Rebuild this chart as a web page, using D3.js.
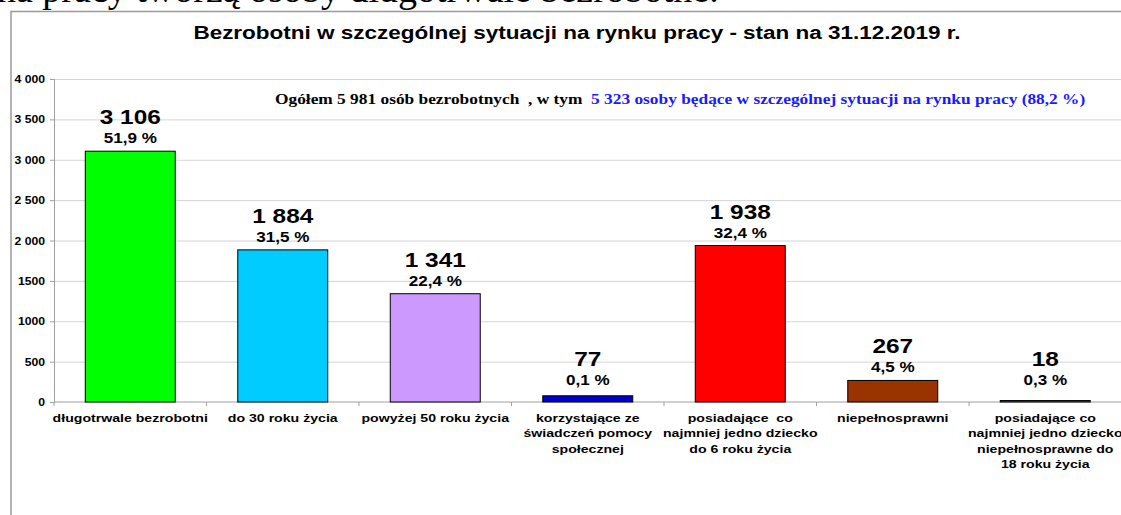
<!DOCTYPE html>
<html>
<head>
<meta charset="utf-8">
<script src="https://cdn.jsdelivr.net/npm/d3@7/dist/d3.min.js"></script>
<style>
  body { margin:0; background:#fff; }
  svg { display:block; }
  text { font-family:"Liberation Sans", Arial, sans-serif; font-weight:bold; }
  .serif { font-family:"Liberation Serif", "Times New Roman", serif; }
</style>
</head>
<body>
<svg id="chart" width="1121" height="515"></svg>
<script>
// dane
const categories = [
    ["długotrwale bezrobotni"],
    ["do 30 roku życia"],
    ["powyżej 50 roku życia"],
    ["korzystające ze", "świadczeń pomocy", "społecznej"],
    ["posiadające  co", "najmniej jedno dziecko", "do 6 roku życia"],
    ["niepełnosprawni"],
    ["posiadające co", "najmniej jedno dziecko", "niepełnosprawne do", "18 roku życia"]
];
const values   = [3106, 1884, 1341, 77, 1938, 267, 18];
const percents = [51.9, 31.5, 22.4, 0.1, 32.4, 4.5, 0.3];
const colors   = ["#00ff00", "#00ccff", "#cc99ff", "#0000cc", "#ff0000", "#993300", "#336666"];
const yTicks      = [0, 500, 1000, 1500, 2000, 2500, 3000, 3500, 4000];
const yTickLabels = ["0", "500", "1000", "1500", "2 000", "2 500", "3 000", "3 500", "4 000"];

const title    = "Bezrobotni w szczególnej sytuacji na rynku pracy - stan na 31.12.2019 r.";
const noteA    = "Ogółem 5 981 osób bezrobotnych  , w tym  ";
const noteB    = "5 323 osoby będące w szczególnej sytuacji na rynku pracy (88,2 %)";
const pageText = "na pracy tworzą osoby długotrwale bezrobotne.";

const W = 1121, H = 515;
const sx = 1.22;   // wykres w dokumencie jest rozciągnięty w poziomie
const plot = { left:54, right:1121.5, top:79, bottom:402 };

const pl = d3.formatLocale({ decimal:",", thousands:"\u00a0", grouping:[3], currency:["","zł"] });
const fmtVal = pl.format(",d"),
      fmtPct = v => pl.format(".1f")(v) + " %";

const svg = d3.select("#chart");

// tekst strony nad wykresem (ucięty)
svg.append("text").attr("class","serif")
    .attr("x",-3).attr("y",2)
    .style("font-weight","normal").style("font-size","38px")
    .text(pageText);

// ramka wykresu
svg.append("path")
    .attr("d", `M11,${H} V11.5 H${W}`)
    .attr("fill","none").attr("stroke","#9a9a9a").attr("stroke-width",1.5);

const x = d3.scaleBand().domain(d3.range(categories.length)).range([plot.left, plot.right]).padding(0);
const y = d3.scaleLinear().domain([0,4000]).range([plot.bottom, plot.top]);
const barW = x.bandwidth()*0.59;

// siatka
svg.append("g")
    .attr("transform",`translate(${plot.left},0)`)
    .call(d3.axisLeft(y).tickValues(yTicks.filter(d=>d>0)).tickSize(-(plot.right-plot.left)).tickFormat(""))
    .call(g => g.select(".domain").remove())
    .call(g => g.selectAll("line").attr("stroke","#d4d4d4"));

// oś Y
svg.append("g")
    .attr("transform",`translate(${plot.left},0)`)
    .call(d3.axisLeft(y).tickValues(yTicks).tickSize(4).tickFormat((d,i)=>yTickLabels[i]))
    .call(g => g.select(".domain").attr("stroke","#a0a0a0"))
    .call(g => g.selectAll("line").attr("stroke","#a0a0a0"))
    .call(g => g.selectAll("text")
        .attr("x",null).attr("dy",null)
        .attr("transform","translate(-9,3.5) scale(" + sx + ",1)")
        .attr("fill","#000")
        .style("font-size","10px").style("font-family",null));

// oś X
const xAxis = svg.append("g");
xAxis.append("line")
    .attr("x1",plot.left).attr("x2",plot.right)
    .attr("y1",y(0)).attr("y2",y(0))
    .attr("stroke","#a0a0a0");
xAxis.selectAll("line.tick")
    .data(d3.range(categories.length+1))
    .join("line").attr("class","tick")
    .attr("x1",i=>plot.left + i*x.step()).attr("x2",i=>plot.left + i*x.step())
    .attr("y1",y(0)).attr("y2",y(0)+4)
    .attr("stroke","#a0a0a0");

// słupki
svg.append("g").selectAll("rect")
    .data(values)
    .join("rect")
    .attr("x",(d,i)=>x(i)+x.bandwidth()/2-barW/2)
    .attr("y",d=>y(d))
    .attr("width",barW)
    .attr("height",d=>y(0)-y(d))
    .attr("fill",(d,i)=>colors[i])
    .attr("stroke","#000").attr("stroke-width",1);

// etykiety wartości
const labels = svg.append("g").selectAll("g")
    .data(values)
    .join("g")
    .attr("transform",(d,i)=>`translate(${x(i)+x.bandwidth()/2},${Math.min(y(d), y(0)-9)-8})`);
labels.append("text")
    .attr("text-anchor","middle")
    .attr("transform",`translate(0,-19) scale(${sx},1)`)
    .style("font-size","20px")
    .text(d=>fmtVal(d));
labels.append("text")
    .attr("text-anchor","middle")
    .attr("transform",`scale(${sx},1)`)
    .style("font-size","14px")
    .text((d,i)=>fmtPct(percents[i]));

// etykiety kategorii
svg.append("g").selectAll("text")
    .data(categories)
    .join("text")
    .attr("text-anchor","middle")
    .attr("transform",(d,i)=>`translate(${x(i)+x.bandwidth()/2},422) scale(1.25,1)`)
    .style("font-size","11.3px")
    .selectAll("tspan")
    .data(d=>d)
    .join("tspan")
    .attr("x",0)
    .attr("dy",(d,j)=>j ? 15.5 : 0)
    .style("white-space","pre")
    .text(d=>d);

// tytuł
svg.append("text")
    .attr("text-anchor","middle")
    .attr("transform",`translate(577,39) scale(1.25,1)`)
    .style("font-size","18px")
    .text(title);

// opis
const note = svg.append("text").attr("class","serif")
    .attr("transform",`translate(275,104) scale(1.24,1)`)
    .style("font-size","14px")
    .style("white-space","pre");
note.append("tspan").attr("fill","#000").text(noteA);
note.append("tspan").attr("fill","#1a1aff").text(noteB);
</script>
</body>
</html>
